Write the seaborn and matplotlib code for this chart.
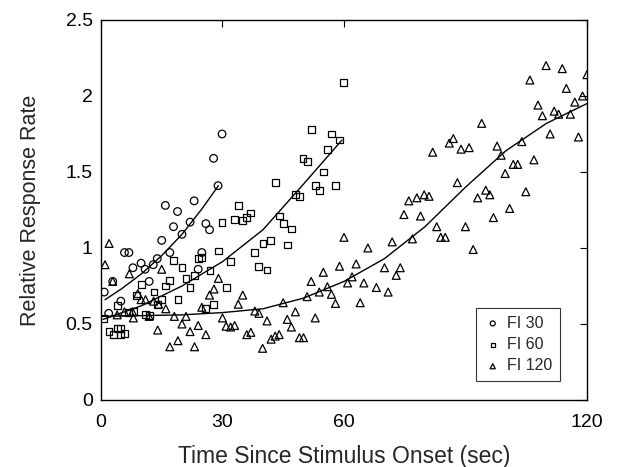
import numpy as np
import pandas as pd
import matplotlib
matplotlib.use('Agg')
import matplotlib.pyplot as plt
import seaborn as sns

# FI 30 (circles)
fi30_x = [0.8, 1.9, 2.9, 4.9, 5.8, 6.9, 7.9, 9.9, 10.9, 11.9, 12.9, 13.9, 15.0, 15.9,
          17.0, 17.9, 18.9, 20.0, 22.0, 23.0, 24.0, 24.9, 25.9, 26.8, 27.8, 28.9, 29.9]
fi30_y = [0.71, 0.57, 0.78, 0.65, 0.97, 0.97, 0.87, 0.90, 0.86, 0.78, 0.89, 0.93, 1.05, 1.28,
          0.97, 1.14, 1.24, 1.09, 1.17, 1.31, 0.86, 0.97, 1.16, 1.12, 1.59, 1.41, 1.75]

# FI 60 (squares)
fi60_x = [0.6, 2.0, 3.0, 4.0, 4.0, 4.8, 4.9, 5.9, 6.8, 8.0, 8.8, 10.0, 10.9, 12.0, 13.1, 13.9,
          15.0, 16.0, 17.0, 18.0, 19.0, 20.0, 21.0, 22.0, 23.0, 24.0, 24.9, 25.9, 26.9, 27.8,
          29.0, 29.9, 30.9, 31.9, 32.9, 33.9, 34.9, 35.9, 37.0, 38.0, 38.9, 40.0, 41.0, 41.9,
          43.0, 44.0, 45.0, 46.0, 47.0, 48.0, 49.0, 49.9, 50.9, 51.9, 52.9, 53.9, 54.9, 55.9,
          57.0, 58.0, 58.9, 59.9]
fi60_y = [0.535, 0.45, 0.43, 0.47, 0.62, 0.43, 0.47, 0.44, 0.575, 0.58, 0.69, 0.76, 0.56, 0.555,
          0.71, 0.63, 0.66, 0.75, 0.785, 0.92, 0.66, 0.87, 0.80, 0.74, 0.82, 0.93, 0.94, 0.60,
          0.85, 0.63, 0.98, 1.17, 0.74, 0.91, 1.19, 1.28, 1.18, 1.20, 1.23, 0.97, 0.88, 1.03,
          0.855, 1.05, 1.43, 1.21, 1.16, 1.02, 1.125, 1.35, 1.34, 1.59, 1.57, 1.78, 1.41, 1.38,
          1.50, 1.65, 1.75, 1.41, 1.71, 2.09]

# FI 120 (triangles)
fi120_x = [1.0, 2.0, 2.9, 4.0, 5.8, 7.0, 7.8, 8.0, 9.1, 9.9, 11.0, 11.9, 13.0, 14.0, 14.2, 15.0,
           16.0, 17.0, 18.1, 19.0, 20.0, 21.0, 22.0, 23.1, 24.0, 24.9, 25.9, 26.8, 27.9, 29.0,
           30.0, 30.9, 32.0, 33.0, 33.9, 35.0, 36.0, 37.0, 38.0, 39.0, 39.9, 41.0, 42.0, 43.0,
           44.0, 45.0, 46.0, 47.0, 48.0, 49.0, 50.0, 50.9, 51.9, 52.9, 53.9, 54.9, 55.9, 56.9,
           57.9, 58.9, 60.0, 60.9, 62.0, 63.0, 64.0, 64.9, 65.9, 68.0, 70.0, 70.9, 71.9, 72.9,
           73.9, 74.8, 76.0, 76.9, 78.0, 78.9, 79.8, 81.0, 81.9, 82.9, 83.9, 85.0, 86.0, 87.0,
           88.0, 88.9, 90.0, 90.9, 91.9, 93.0, 94.0, 95.0, 96.0, 96.9, 97.8, 98.8, 99.8, 100.9,
           101.8, 102.9, 103.9, 104.9, 105.9, 106.9, 107.9, 109.0, 109.9, 110.9, 111.9, 113.0,
           113.9, 114.9, 115.9, 117.0, 117.9, 118.9, 120.0]
fi120_y = [0.89, 1.03, 0.78, 0.56, 0.58, 0.83, 0.58, 0.54, 0.70, 0.66, 0.66, 0.55, 0.65, 0.46, 0.63, 0.86,
           0.60, 0.35, 0.55, 0.39, 0.50, 0.55, 0.45, 0.35, 0.49, 0.61, 0.43, 0.69, 0.73, 0.80,
           0.54, 0.485, 0.48, 0.49, 0.63, 0.69, 0.43, 0.445, 0.585, 0.57, 0.34, 0.52, 0.40, 0.42,
           0.43, 0.64, 0.53, 0.48, 0.58, 0.41, 0.41, 0.68, 0.78, 0.54, 0.71, 0.84, 0.745, 0.695,
           0.635, 0.88, 1.07, 0.77, 0.81, 0.895, 0.64, 0.77, 1.00, 0.74, 0.87, 0.71, 1.04, 0.82,
           0.87, 1.22, 1.31, 1.06, 1.33, 1.21, 1.35, 1.34, 1.63, 1.14, 1.07, 1.07, 1.69, 1.72,
           1.43, 1.65, 1.14, 1.66, 0.99, 1.33, 1.82, 1.38, 1.35, 1.20, 1.67, 1.61, 1.49, 1.26,
           1.55, 1.55, 1.70, 1.37, 2.105, 1.58, 1.94, 1.87, 2.20, 1.75, 1.90, 1.88,
           2.18, 2.05, 1.88, 1.96, 1.73, 2.00, 2.14]

# fitted curves
fit30_x = [1, 5, 10, 15, 20, 25, 29]
fit30_y = [0.66, 0.73, 0.83, 0.95, 1.09, 1.26, 1.41]
fit60_x = [0.5, 10, 20, 30, 40, 50, 59.5]
fit60_y = [0.53, 0.62, 0.75, 0.91, 1.12, 1.42, 1.71]
fit120_x = [0, 10, 20, 30, 40, 50, 60, 70, 80, 90, 100, 110, 120]
fit120_y = [0.55, 0.555, 0.56, 0.575, 0.60, 0.67, 0.78, 0.93, 1.14, 1.40, 1.64, 1.82, 1.95]

sns.set_style('white')
plt.rcParams['font.family'] = ['Liberation Sans', 'DejaVu Sans']

fig = plt.figure(figsize=(6.18, 4.67), dpi=100)
ax = fig.add_axes([0.1634, 0.1435, 0.7864, 0.8137])

mk = dict(facecolors='none', edgecolors='black', linewidths=0.9, ax=ax, zorder=3)
sns.scatterplot(x=fi30_x, y=fi30_y, marker='o', s=30, label='FI 30', **mk)
sns.scatterplot(x=fi60_x, y=fi60_y, marker='s', s=24, label='FI 60', **mk)
sns.scatterplot(x=fi120_x, y=fi120_y, marker='^', s=32, label='FI 120', **mk)

for fx, fy in [(fit30_x, fit30_y), (fit60_x, fit60_y), (fit120_x, fit120_y)]:
    sns.lineplot(x=fx, y=fy, color='black', linewidth=1.0, ax=ax, legend=False)

ax.set_xlim(0, 120)
ax.set_ylim(0, 2.5)
ax.set_xticks([0, 30, 60, 120])
ax.set_yticks([0, 0.5, 1, 1.5, 2, 2.5])
ax.set_yticklabels(['0', '0.5', '1', '1.5', '2', '2.5'])
ax.tick_params(direction='in', top=True, right=True, length=5, width=0.8,
               labelsize=14, colors='black')
ax.tick_params(axis='x', pad=10)
ax.tick_params(axis='y', pad=6)
for sp in ax.spines.values():
    sp.set_visible(True)
    sp.set_color('black')
    sp.set_linewidth(1.0)

ax.set_xlabel('Time Since Stimulus Onset (sec)', fontsize=16.5, labelpad=10)
ax.set_ylabel('Relative Response Rate', fontsize=15.5, labelpad=18)

leg = ax.legend(loc='lower right', bbox_to_anchor=(0.96, 0.03), fontsize=11.5,
                frameon=True, fancybox=False, edgecolor='black', markerscale=0.65,
                handletextpad=0.3, borderpad=0.45, labelspacing=0.4, handlelength=1.2)
leg.get_frame().set_linewidth(0.8)

fig.savefig('out.png', dpi=100)
